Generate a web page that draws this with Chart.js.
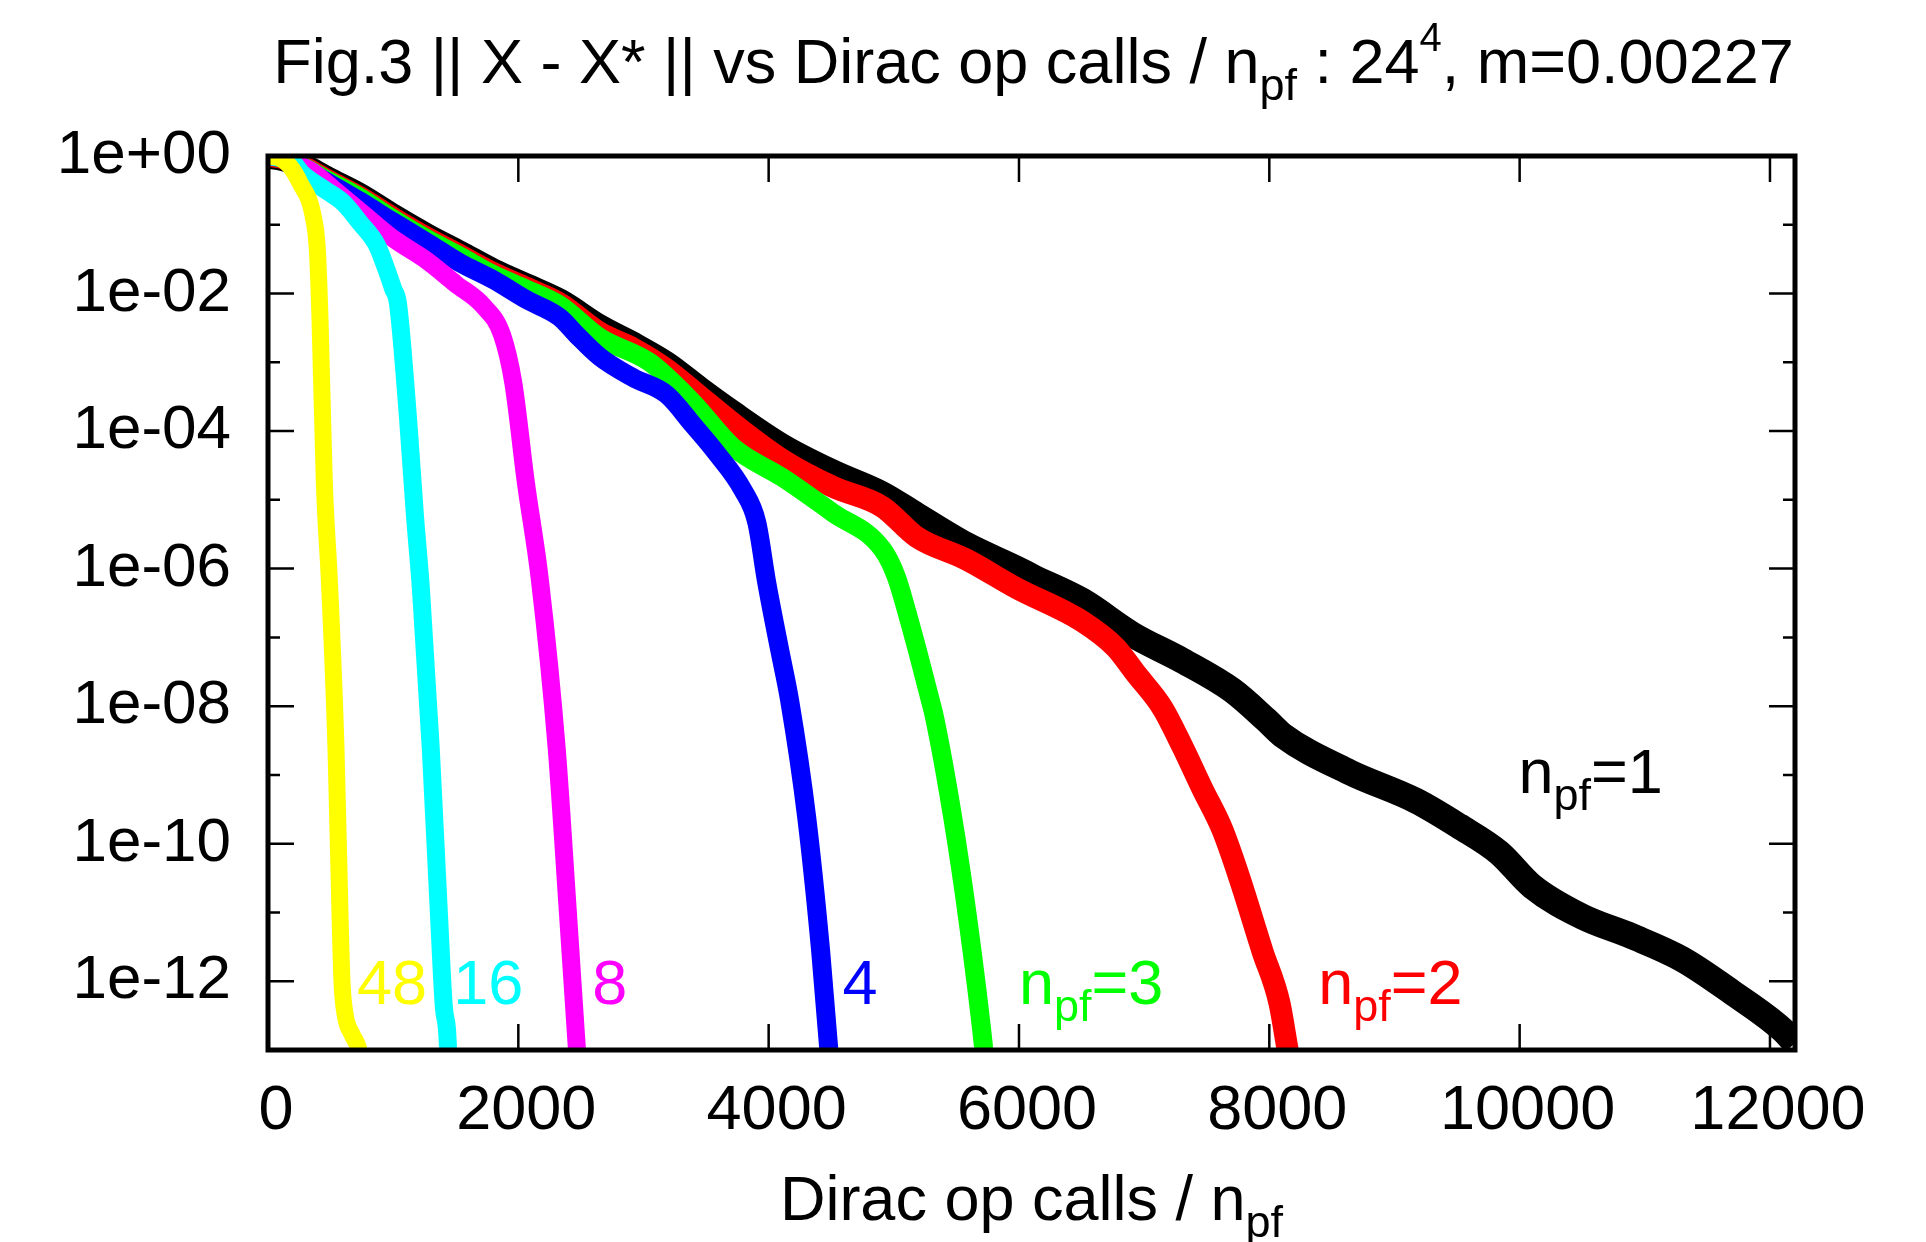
<!DOCTYPE html>
<html>
<head>
<meta charset="utf-8">
<script src="https://cdn.jsdelivr.net/npm/chart.js@4.4.1/dist/chart.umd.min.js"></script>
<style>
html,body{margin:0;padding:0;background:#ffffff;}
#wrap{width:1926px;height:1242px;position:relative;}
</style>
</head>
<body>
<div id="wrap"><canvas id="c" width="1926" height="1242"></canvas></div>
<script>
// ---------------- data ----------------
const x_npf48 = [0,96,175,255,362,394,415,450,491,543,575,591,615,670,720,750];
const y_npf48 = [1.0,0.93,0.71,0.41,0.13,0.044,4.6e-3,1.8e-5,6.3e-7,2.5e-9,1.0e-11,1.0e-12,3.4e-13,1.7e-13,1.1e-13,6e-14];

const x_npf16 = [0,100,200,269,470,600,735,869,948,1000,1038,1118,1175,1222,1300,1365,1405,1430,1445];
const y_npf16 = [1.0,0.93,0.8,0.56,0.31,0.21,0.107,0.051,0.022,0.0117,7.2e-3,1.6e-4,5.6e-6,5.0e-7,2.5e-9,1.0e-11,4.2e-13,2.0e-13,6e-14];

const x_npf8 = [0,100,200,350,550,780,1000,1270,1500,1720,1870,1960,2060,2172,2306,2396,2467,2480];
const y_npf8 = [1.0,0.95,0.8,0.6,0.30,0.135,0.063,0.030,0.0138,6.6e-3,2.5e-3,5.0e-4,1.8e-5,6.9e-7,2.5e-9,1.0e-11,1.1e-13,5e-14];

const x_npf4 = [0,100,200,470,735,1000,1267,1533,1797,2068,2331,2467,2651,2915,3185,3396,3583,3793,3905,3985,4088,4168,4303,4415,4479,4492];
const y_npf4 = [1.0,0.95,0.82,0.42,0.22,0.11,0.056,0.028,0.016,8.1e-3,4.5e-3,2.5e-3,1.2e-3,6.0e-4,3.4e-4,1.23e-4,4.8e-5,1.4e-5,4.7e-6,6.2e-7,6.6e-8,1.2e-8,2.5e-10,2.8e-12,1.1e-13,5e-14];

const x_npf3 = [0,100,200,300,470,735,1000,1267,1533,1797,2068,2331,2651,3050,3396,3713,4112,4512,4910,5020,5100,5190,5285,5325,5469,5589,5717,5735];
const y_npf3 = [1.0,0.95,0.82,0.67,0.45,0.25,0.122,0.063,0.035,0.019,0.0115,6.8e-3,2.3e-3,1.0e-3,2.6e-4,5.9e-5,2.1e-5,6.5e-6,1.9e-6,7.6e-7,2.5e-7,6.3e-8,1.35e-8,6.9e-9,2.5e-10,8.5e-12,1.1e-13,5e-14];

const x_npf2 = [0,100,200,300,470,735,1000,1267,1533,1797,2068,2331,2651,2915,3185,3449,3713,4112,4512,4910,5181,5581,5980,6507,6773,6932,7145,7305,7465,7625,7761,7945,8080,8144,8175];
const y_npf2 = [1.0,0.95,0.82,0.67,0.45,0.25,0.125,0.065,0.036,0.020,0.012,7.2e-3,2.7e-3,1.6e-3,7.9e-4,3.2e-4,1.3e-4,3.8e-5,1.55e-5,7.9e-6,2.9e-6,1.35e-6,5.2e-7,1.7e-7,7.1e-8,3.0e-8,9.5e-9,2.6e-9,6.3e-10,1.6e-10,3.2e-11,2.75e-12,4.9e-13,1.07e-13,5e-14];

const x_npf1 = [0,100,200,300,470,735,1000,1267,1533,1797,2068,2331,2651,2915,3185,3449,3713,4112,4512,4910,5181,5581,5980,6108,6507,6906,7305,7704,7976,8104,8639,9174,9517,9836,10100,10500,10898,11297,11697,12096,12200];
const y_npf1 = [1.0,0.95,0.83,0.68,0.46,0.26,0.13,0.068,0.038,0.021,0.0126,7.6e-3,3.2e-3,1.8e-3,9.3e-4,4.0e-4,1.8e-4,5.9e-5,2.5e-5,1.2e-5,6.0e-6,2.2e-6,1.0e-6,7.6e-7,3.4e-7,1.1e-7,4.6e-8,1.7e-8,6.3e-9,3.8e-9,1.1e-9,4.2e-10,1.8e-10,7.4e-11,2.4e-11,8.7e-12,4.5e-12,2.1e-12,6.9e-13,2.0e-13,1.26e-13];

// series labels (text annotations)
const labelTexts = ['48','16','8','4','3','2','1'];
const labelX = [711, 1480, 2590, 4590, 6000, 8390, 9990];
const labelY = [1e-12, 1e-12, 1e-12, 1e-12, 1e-12, 1e-12, 1.17e-9];

// ticks
const xTickValues = [0,2000,4000,6000,8000,10000,12000];
const xTickLabels = ['0','2000','4000','6000','8000','10000','12000'];
const yTickValues = [1,1e-2,1e-4,1e-6,1e-8,1e-10,1e-12];
const yTickLabels = ['1e+00','1e-02','1e-04','1e-06','1e-08','1e-10','1e-12'];
const yMinorTickValues = [1e-1,1e-3,1e-5,1e-7,1e-9,1e-11,1e-13];

// ---------------- styles ----------------
const FONT = "'Liberation Sans', Arial, Helvetica, sans-serif";
const BASE = 63, SUB = 45, SUP = 40;
const seriesX = [x_npf48, x_npf16, x_npf8, x_npf4, x_npf3, x_npf2, x_npf1];
const seriesY = [y_npf48, y_npf16, y_npf8, y_npf4, y_npf3, y_npf2, y_npf1];
const seriesColors = ['#ffff00','#00ffff','#ff00ff','#0000ff','#00ff00','#ff0000','#000000'];
const seriesWidths = [17, 18, 18, 19, 19, 22, 26];

const datasets = seriesX.map((xs, k) => ({
  label: 'npf=' + labelTexts[k],
  data: xs.map((v, i) => ({x: v, y: seriesY[k][i]})),
  borderColor: seriesColors[k],
  backgroundColor: seriesColors[k],
  borderWidth: seriesWidths[k],
  pointRadius: 0,
  fill: false,
  cubicInterpolationMode: 'monotone',
  borderJoinStyle: 'round',
  borderCapStyle: 'butt'
}));

function runsWidth(ctx, runs) {
  let w = 0;
  for (const r of runs) {
    const sz = r.sub ? SUB : (r.sup ? SUP : BASE);
    ctx.font = sz + 'px ' + FONT;
    w += ctx.measureText(r.t).width;
  }
  return w;
}
function drawRuns(ctx, runs, x, baseline, align, color) {
  const w = runsWidth(ctx, runs);
  let cx = align === 'center' ? x - w / 2 : x;
  ctx.fillStyle = color;
  ctx.textAlign = 'left';
  ctx.textBaseline = 'alphabetic';
  for (const r of runs) {
    const sz = r.sub ? SUB : (r.sup ? SUP : BASE);
    const dy = r.sub ? 17 : (r.sup ? -32 : 0);
    ctx.font = sz + 'px ' + FONT;
    ctx.fillText(r.t, cx, baseline + dy);
    cx += ctx.measureText(r.t).width;
  }
}

const framePlugin = {
  id: 'frame',
  afterDraw(chart) {
    const ctx = chart.ctx, a = chart.chartArea;
    const xs = chart.scales.x, ys = chart.scales.y;
    ctx.save();
    ctx.strokeStyle = '#000';
    ctx.lineWidth = 2.5;
    ctx.beginPath();
    yTickValues.forEach(v => {
      const p = ys.getPixelForValue(v);
      ctx.moveTo(a.left, p); ctx.lineTo(a.left + 26, p);
      ctx.moveTo(a.right, p); ctx.lineTo(a.right - 26, p);
    });
    yMinorTickValues.forEach(v => {
      const p = ys.getPixelForValue(v);
      ctx.moveTo(a.left, p); ctx.lineTo(a.left + 12, p);
      ctx.moveTo(a.right, p); ctx.lineTo(a.right - 12, p);
    });
    xTickValues.forEach(v => {
      const p = xs.getPixelForValue(v);
      ctx.moveTo(p, a.bottom); ctx.lineTo(p, a.bottom - 26);
      ctx.moveTo(p, a.top); ctx.lineTo(p, a.top + 26);
    });
    ctx.stroke();
    ctx.lineWidth = 5;
    ctx.strokeRect(a.left, a.top, a.right - a.left, a.bottom - a.top);

    const cxm = (a.left + a.right) / 2;
    // title
    drawRuns(ctx, [
      {t: 'Fig.3 || X - X* || vs Dirac op calls / n'},
      {t: 'pf', sub: true},
      {t: ' : 24'},
      {t: '4', sup: true},
      {t: ', m=0.00227'}
    ], cxm + 2, 83, 'center', '#000');
    // x axis title
    drawRuns(ctx, [{t: 'Dirac op calls / n'}, {t: 'pf', sub: true}], cxm, 1220, 'center', '#000');

    // series labels
    labelTexts.forEach((t, k) => {
      const px = xs.getPixelForValue(labelX[k]);
      const py = ys.getPixelForValue(labelY[k]) + 22.5;
      const runs = (k >= 4) ? [{t: 'n'}, {t: 'pf', sub: true}, {t: '=' + t}] : [{t: t}];
      drawRuns(ctx, runs, px, py, 'left', seriesColors[k]);
    });
    ctx.restore();
  }
};

new Chart(document.getElementById('c').getContext('2d'), {
  type: 'line',
  data: {datasets},
  options: {
    responsive: false,
    animation: false,
    devicePixelRatio: 1,
    layout: {padding: {left: 0, right: 131, top: 156, bottom: 0}},
    plugins: {legend: {display: false}, title: {display: false}, tooltip: {enabled: false}},
    scales: {
      x: {
        type: 'linear', min: 0, max: 12200,
        grid: {display: false, drawTicks: false},
        border: {display: false},
        afterBuildTicks: (s) => { s.ticks = xTickValues.map(v => ({value: v})); },
        ticks: {
          autoSkip: false, maxRotation: 0, minRotation: 0, labelOffset: 8,
          padding: 24, color: '#000', font: {family: FONT, size: BASE},
          callback: (v, i) => xTickLabels[i]
        },
        afterFit: (s) => { s.height = 192; }
      },
      y: {
        type: 'logarithmic', min: 1e-13, max: 1,
        grid: {display: false, drawTicks: false},
        border: {display: false},
        afterBuildTicks: (s) => { s.ticks = yTickValues.map(v => ({value: v})); },
        ticks: {
          autoSkip: false, padding: 37, color: '#000', font: {family: FONT, size: 62},
          callback: (v, i) => yTickLabels[i]
        },
        afterFit: (s) => { s.width = 268; }
      }
    }
  },
  plugins: [framePlugin]
});
</script>
</body>
</html>
